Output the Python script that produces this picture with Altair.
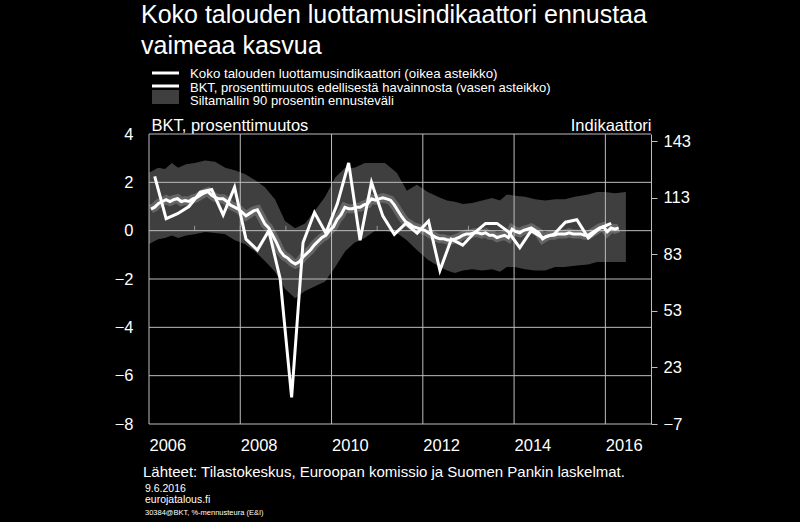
import altair as alt
import pandas as pd

FONT = "Liberation Sans"
GRID = "#bdbdbd"
BAND = "#3f3f3f"

# ---- data -------------------------------------------------------------
# BKT, prosenttimuutos edellisestä havainnosta (quarterly, 2006Q1 ->)
gdp_values = [
    2.25, 0.5, 0.7, 1.0,
    1.6, 1.7, 0.65, 1.8,
    -0.35, -0.8, 0.0, -2.0,
    -6.9, -0.5, 0.75, -0.1,
    1.1, 2.8, -0.4, 2.0,
    0.6, -0.15, 0.3, -0.1,
    0.4, -1.65, -0.35, -0.6,
    -0.1, 0.3, 0.3, -0.05,
    -0.7, 0.0, -0.3, -0.15,
    0.35, 0.45, -0.3, 0.1,
    0.3,
]

# Koko talouden luottamusindikaattori (monthly, 2006/01 ->)
ind_values = [
    107, 108, 110, 111, 112, 111, 112, 112.5, 111, 111.5, 111, 112.4,
    113, 114.3, 115.5, 116.2, 114.3, 113, 112.4, 112.4, 111, 109, 108, 107,
    105.3, 103.4, 104.7, 106, 106.6, 102.8, 99, 97, 93.1, 89.3, 84.8, 82.2,
    81, 79, 77.8, 79, 81.6, 83.5, 85.4, 88, 90, 91.9, 93.1, 95.7,
    97.6, 101.5, 104, 107.9, 107.2, 107.2, 107.9, 107.9, 109.2, 109.8, 112.4, 111.7,
    112.4, 113, 112.4, 111.7, 109.2, 106, 102.8, 100.2, 99, 97.6, 97, 96.3,
    95.7, 94.4, 93.1, 91.9, 91.2, 91.2, 90.6, 90.6, 91.2, 91.9, 93.1, 93.8,
    93.8, 94.4, 94.4, 93.8, 94.4, 93.1, 93.1, 91.9, 92.5, 93.1, 91.9, 96.3,
    95, 94.4, 95.7, 96.3, 97, 95.7, 94.4, 91.2, 92.5, 93.1, 93.1, 93.8,
    93.8, 93.8, 94.4, 93.8, 93.8, 93.8, 93.1, 93.1, 94.4, 95.7, 97, 97.6,
    95, 97, 96.3, 97,
]

# Siltamallin 90 prosentin ennusteväli
band_t = [2006.0, 2006.2, 2006.35, 2006.5, 2006.64, 2006.81, 2007.0, 2007.23,
          2007.45, 2007.67, 2007.88, 2008.1, 2008.32, 2008.54, 2008.76, 2008.98,
          2009.2, 2009.42, 2009.64, 2009.86, 2010.08, 2010.3, 2010.5, 2010.73,
          2010.95, 2011.17, 2011.43, 2011.65, 2011.87, 2012.11, 2012.33, 2012.53,
          2012.7, 2012.88, 2013.08, 2013.3, 2013.52, 2013.69, 2013.84, 2014.02,
          2014.24, 2014.46, 2014.68, 2014.9, 2015.11, 2015.33, 2015.62, 2015.82,
          2015.99, 2016.21, 2016.45]
band_high = [2.4, 2.6, 2.55, 2.8, 2.6, 2.75, 2.8, 2.9,
             2.85, 2.6, 2.5, 2.35, 2.1, 1.8, 1.3, 0.4,
             0.1, 0.3, 0.85, 1.4, 2.2, 2.6, 2.6, 2.8,
             2.8, 2.8, 2.4, 1.65, 1.9, 1.6, 1.4, 1.25,
             1.2, 1.1, 1.15, 1.25, 1.35, 1.25, 1.5, 1.45,
             1.4, 1.3, 1.25, 1.3, 1.3, 1.4, 1.5, 1.6,
             1.6, 1.55, 1.6]
band_low = [-0.55, -0.35, -0.3, -0.2, -0.3, -0.2, -0.15, -0.05,
            -0.1, -0.15, -0.4, -0.55, -0.85, -1.25, -1.7, -2.4,
            -2.8, -2.5, -2.3, -2.1, -1.5, -0.85, -0.5, -0.3,
            0.0, 0.0, -0.1, -0.4, -0.8, -1.2, -1.45, -1.65,
            -1.75, -1.65, -1.6, -1.65, -1.6, -1.7, -1.5, -1.5,
            -1.6, -1.65, -1.65, -1.5, -1.5, -1.45, -1.4, -1.3,
            -1.3, -1.3, -1.3]

x_ticks = [2006, 2008, 2010, 2012, 2014, 2016]
year_ticks = [2007, 2008, 2009, 2010, 2011, 2012, 2013, 2014, 2015, 2016]
left_ticks = [-8, -6, -4, -2, 0, 2, 4]
right_ticks = [-7, 23, 53, 83, 113, 143]

gdp_df = pd.DataFrame({"t": [2006 + (i + 0.5) / 4 for i in range(len(gdp_values))],
                       "v": gdp_values})
ind_df = pd.DataFrame({"t": [2006 + (i + 0.5) / 12 for i in range(len(ind_values))],
                       "v": ind_values})
band_df = pd.DataFrame({"t": band_t, "lo": band_low, "hi": band_high})

# ---- scales & axes ------------------------------------------------------
x_scale = alt.Scale(domain=[2006, 2017], nice=False, zero=False)
yl_scale = alt.Scale(domain=[-8, 4], nice=False, zero=False)
yr_scale = alt.Scale(domain=[-7, 146.8], nice=False, zero=False)

x_axis = alt.Axis(values=x_ticks, format="d", title=None, grid=False, domain=False,
                  ticks=False, labelAlign="left", labelPadding=13, labelFont=FONT,
                  labelFontSize=16.5, labelColor="white", labelFlush=False)
left_axis = alt.Axis(orient="left", values=left_ticks, grid=False, domain=False, ticks=False,
                     labelPadding=16, labelFont=FONT, labelFontSize=16.5, labelColor="white",
                     title="BKT, prosenttimuutos", titleAngle=0, titleAlign="left",
                     titleBaseline="alphabetic", titleX=2, titleY=-4, titleFont=FONT,
                     titleFontSize=16.5, titleFontWeight="normal", titleColor="white")
right_axis = alt.Axis(orient="right", values=right_ticks, grid=False, domain=True,
                      domainColor=GRID, ticks=True, tickColor=GRID, tickSize=6,
                      labelPadding=6, labelFont=FONT, labelFontSize=16.5, labelColor="white",
                      title="Indikaattori", titleAngle=0, titleAlign="right",
                      titleBaseline="alphabetic", titleX=0, titleY=-4, titleFont=FONT,
                      titleFontSize=16.5, titleFontWeight="normal", titleColor="white")

X = lambda f: alt.X(f, scale=x_scale, axis=x_axis)

band = alt.Chart(band_df).mark_area(color=BAND, opacity=1).encode(
    x=X("t:Q"),
    y=alt.Y("lo:Q", scale=yl_scale, axis=left_axis),
    y2="hi:Q",
)
hgrid = alt.Chart(pd.DataFrame({"g": left_ticks})).mark_rule(color=GRID, strokeWidth=1).encode(
    y=alt.Y("g:Q", scale=yl_scale, axis=left_axis)
)
vgrid = alt.Chart(pd.DataFrame({"g": x_ticks})).mark_rule(color=GRID, strokeWidth=1).encode(
    x=X("g:Q")
)
zero_ticks = alt.Chart(pd.DataFrame({"g": year_ticks})).transform_calculate(z="0").mark_tick(
    orient="vertical", size=5, thickness=1, yOffset=-2.5, color=GRID
).encode(
    x=X("g:Q"),
    y=alt.Y("z:Q", scale=yl_scale, axis=left_axis),
)
gdp_line = alt.Chart(gdp_df).mark_line(color="white", strokeWidth=3).encode(
    x=X("t:Q"),
    y=alt.Y("v:Q", scale=yl_scale, axis=left_axis),
)
left = alt.layer(band, hgrid, vgrid, zero_ticks, gdp_line)

ind_glow = alt.Chart(ind_df).mark_line(color="white", opacity=0.2, strokeWidth=9).encode(
    x=X("t:Q"),
    y=alt.Y("v:Q", scale=yr_scale, axis=right_axis),
)
ind_line = alt.Chart(ind_df).mark_line(color="white", strokeWidth=3).encode(
    x=X("t:Q"),
    y=alt.Y("v:Q", scale=yr_scale, axis=right_axis),
)
right = alt.layer(ind_glow, ind_line)

one = pd.DataFrame({"k": [0]})


def text(s, x, y, size, align="left", baseline="alphabetic"):
    return alt.Chart(one).mark_text(align=align, baseline=baseline, font=FONT,
                                    fontSize=size, color="white").encode(
        x=alt.value(x), y=alt.value(y), text=alt.value(s))


annotations = [
    text("Koko talouden luottamusindikaattori ennustaa", -8, -111, 25),
    text("vaimeaa kasvua", -8, -80, 25),
    alt.Chart(one).mark_rule(color="white", strokeWidth=3).encode(
        x=alt.value(3), x2=alt.value(30), y=alt.value(-61)),
    alt.Chart(one).mark_rule(color="white", strokeWidth=3).encode(
        x=alt.value(3), x2=alt.value(30), y=alt.value(-48)),
    alt.Chart(one).mark_rect(color=BAND).encode(
        x=alt.value(3), x2=alt.value(30), y=alt.value(-44), y2=alt.value(-30)),
    text("Koko talouden luottamusindikaattori  (oikea asteikko)", 41, -60, 13.3, baseline="middle"),
    text("BKT, prosenttimuutos  edellisestä  havainnosta  (vasen asteikko)", 41, -46.5, 13, baseline="middle"),
    text("Siltamallin  90 prosentin ennusteväli", 41, -33, 13, baseline="middle"),
    text("Lähteet: Tilastokeskus, Euroopan komissio ja Suomen Pankin laskelmat.", -6, 343, 15),
    text("9.6.2016", -4, 358, 10.5),
    text("eurojatalous.fi", -4, 369, 10.5),
    text("30384@BKT, %-mennusteura (E&I)", -4, 381, 7.5),
]

chart = alt.layer(left, right, *annotations).resolve_scale(y="independent").properties(
    width=502,
    height=290,
    padding={"left": 149, "top": 134, "right": 149, "bottom": 98},
    autosize=alt.AutoSizeParams(type="none"),
    background="black",
).configure_view(stroke=None)

chart.save("out.html", embed_options={"renderer": "svg", "actions": False})
